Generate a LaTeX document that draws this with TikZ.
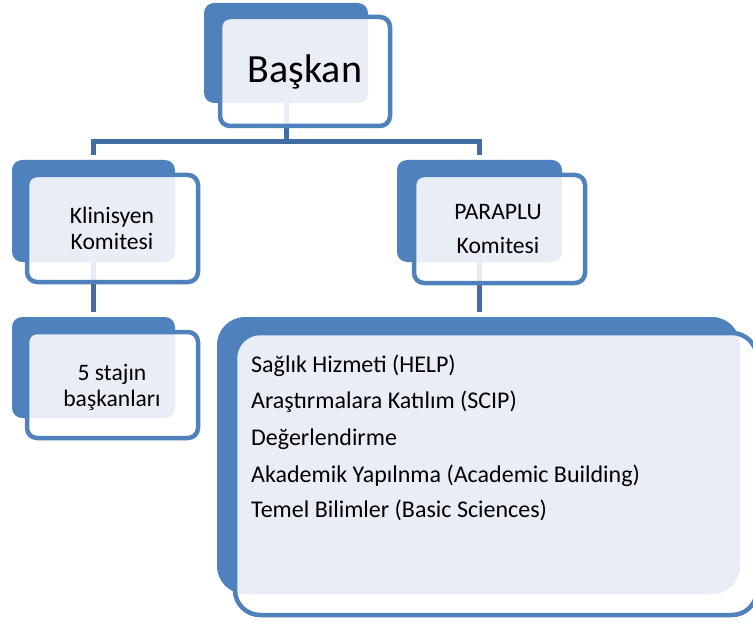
\documentclass[tikz,border=0pt]{standalone}
\usepackage{fontspec}
\setmainfont{Carlito}
\usetikzlibrary{backgrounds}
\definecolor{accent}{RGB}{79,129,189}
\definecolor{connblue}{RGB}{66,109,163}
\definecolor{lightfill}{RGB}{233,238,246}
\begin{document}
\begin{tikzpicture}[x=1pt,y=-1pt,
  backbox/.style={rectangle, fill=accent, draw=none, inner sep=0, outer sep=0, rounded corners=10pt},
  frontbox/.style={rectangle, fill=white, fill opacity=0.88, draw=none, inner sep=0, outer sep=0, rounded corners=10pt},
  frontline/.style={draw=accent, line width=4.5pt},
  conn/.style={draw=connblue, line width=5pt},
  smalltext/.style={anchor=base, inner sep=0, font=\fontsize{23.6}{28}\selectfont},
  listtext/.style={anchor=base west, inner sep=0, font=\fontsize{24}{29}\selectfont}
]
\useasboundingbox (0,0) rectangle (753,623);

% --- Baskan
\node[backbox, minimum width=164pt, minimum height=100pt] (baskanB) at (286,53) {};
\node[frontbox, minimum width=170pt, minimum height=109pt] (baskanF) at (305,71.5) {};
\begin{scope}
  \clip[rounded corners=10pt] (baskanB.south west) rectangle (baskanB.north east);
  \fill[lightfill, rounded corners=10pt] (baskanF.south west) rectangle (baskanF.north east);
\end{scope}
\draw[frontline, rounded corners=10pt] (baskanF.south west) rectangle (baskanF.north east);
\node[anchor=base, inner sep=0, font=\fontsize{40}{48}\selectfont] (tBaskan) at (305,83) {Başkan};

% --- Klinisyen
\node[backbox, minimum width=163pt, minimum height=102pt] (klinB) at (93.5,211) {};
\node[frontbox, minimum width=171pt, minimum height=107pt] (klinF) at (112.5,228.5) {};
\begin{scope}
  \clip[rounded corners=10pt] (klinB.south west) rectangle (klinB.north east);
  \fill[lightfill, rounded corners=10pt] (klinF.south west) rectangle (klinF.north east);
\end{scope}
\draw[frontline, rounded corners=10pt] (klinF.south west) rectangle (klinF.north east);
\node[smalltext] (tKlin1) at (112,224) {Klinisyen};
\node[smalltext] (tKlin2) at (112,249) {Komitesi};

% --- PARAPLU
\node[backbox, minimum width=165pt, minimum height=102pt] (paraB) at (479.5,211) {};
\node[frontbox, minimum width=171pt, minimum height=108pt] (paraF) at (499.5,229) {};
\begin{scope}
  \clip[rounded corners=10pt] (paraB.south west) rectangle (paraB.north east);
  \fill[lightfill, rounded corners=10pt] (paraF.south west) rectangle (paraF.north east);
\end{scope}
\draw[frontline, rounded corners=10pt] (paraF.south west) rectangle (paraF.north east);
\node[smalltext] (tPara1) at (498,220) {PARAPLU};
\node[smalltext] (tPara2) at (498,253) {Komitesi};

% --- 5 stajin
\node[backbox, minimum width=163pt, minimum height=101pt] (stajB) at (93.5,367.5) {};
\node[frontbox, minimum width=171pt, minimum height=106pt] (stajF) at (112.5,385) {};
\begin{scope}
  \clip[rounded corners=10pt] (stajB.south west) rectangle (stajB.north east);
  \fill[lightfill, rounded corners=10pt] (stajF.south west) rectangle (stajF.north east);
\end{scope}
\draw[frontline, rounded corners=10pt] (stajF.south west) rectangle (stajF.north east);
\node[smalltext] (tStaj1) at (112,380) {5 stajın};
\node[smalltext] (tStaj2) at (112,406) {başkanları};

% --- big list box
\node[backbox, rounded corners=28pt, minimum width=523pt, minimum height=277pt] (bigB) at (478.5,455.5) {};
\node[frontbox, rounded corners=25pt, minimum width=522pt, minimum height=282pt] (bigF) at (496,474) {};
\begin{scope}
  \clip[rounded corners=28pt] (bigB.south west) rectangle (bigB.north east);
  \fill[lightfill, rounded corners=25pt] (bigF.south west) rectangle (bigF.north east);
\end{scope}
\draw[frontline, rounded corners=25pt] (bigF.south west) rectangle (bigF.north east);
\node[listtext] (tL1) at (251,372) {Sağlık Hizmeti (HELP)};
\node[listtext] (tL2) at (251,408) {Araştırmalara Katılım (SCIP)};
\node[listtext] (tL3) at (251,445) {Değerlendirme};
\node[listtext] (tL4) at (251,482) {Akademik Yapılnma (Academic Building)};
\node[listtext] (tL5) at (251,517) {Temel Bilimler (Basic Sciences)};

% --- connectors (behind the boxes)
\coordinate (bar) at (0,141.5);
\coordinate (klinIn) at ([yshift=5pt]klinB.north);
\coordinate (paraIn) at ([yshift=5pt]paraB.north);
\coordinate (stajIn) at ([yshift=5pt]stajB.north);
\coordinate (bigIn) at ([yshift=5pt]bigB.north -| paraB.center);
\begin{pgfonlayer}{background}
  \draw[conn] (baskanB.center) -- (baskanB.center |- bar);
  \draw[conn] (klinIn) |- (paraB.center |- bar) -- (paraIn);
  \draw[conn] (klinB.center) -- (stajIn);
  \draw[conn] (paraB.center) -- (bigIn);
\end{pgfonlayer}
\end{tikzpicture}
\end{document}
